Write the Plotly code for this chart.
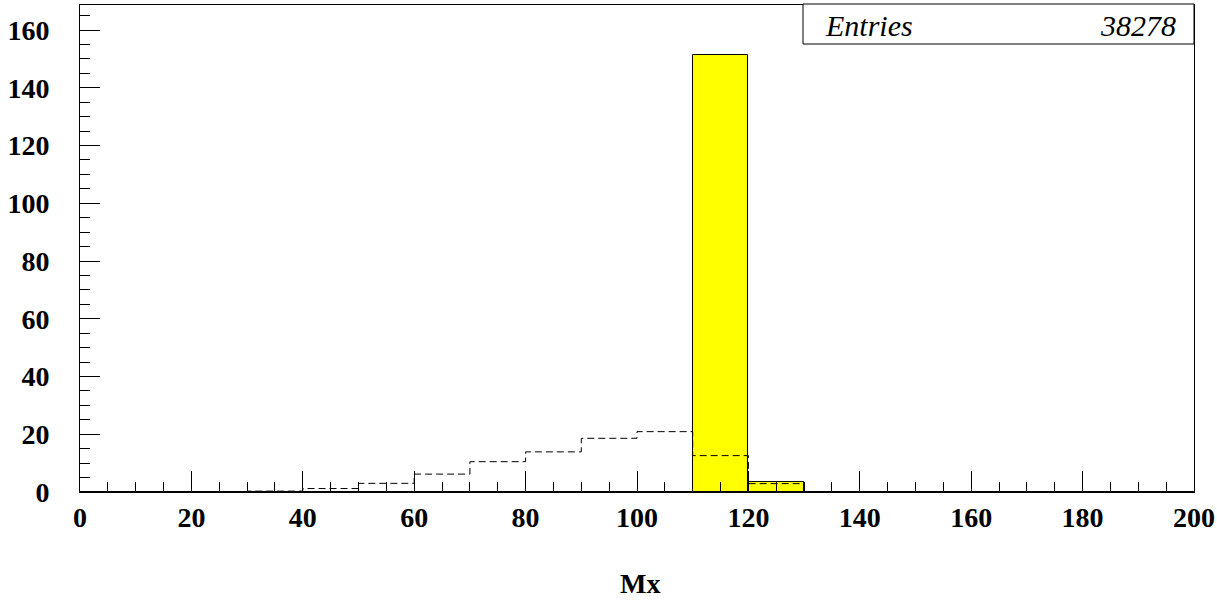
import plotly.graph_objects as go

bin_edges = list(range(0, 210, 10))
yellow_counts = [0, 0, 0, 0, 0, 0, 0, 0, 0, 0, 0, 151.5, 3.5, 0, 0, 0, 0, 0, 0, 0]
dashed_counts = [0, 0, 0.05, 0.3, 1.2, 3.0, 6.2, 10.5, 13.9, 18.6, 20.9, 12.6, 2.9, 0.15, 0.05, 0.05, 0.05, 0.05, 0.05, 0.05]
entries_label = "Entries"
entries_value = "38278"
x_title = "Mx"

centers = [(a + b) / 2 for a, b in zip(bin_edges[:-1], bin_edges[1:])]

SERIF = "Liberation Serif, Times New Roman, Times, serif"

fig = go.Figure()
fig.add_trace(go.Bar(
    x=centers, y=yellow_counts, width=10,
    marker=dict(color="#ffff00", line=dict(color="black", width=1)),
    showlegend=False, hoverinfo="skip",
))
fig.add_trace(go.Scatter(
    x=bin_edges, y=dashed_counts + [dashed_counts[-1]],
    mode="lines", line=dict(shape="hv", color="black", width=1, dash="7px,4px"),
    showlegend=False, hoverinfo="skip",
))

L, R, T, B = 80, 1194, 5, 492
W, H = 1217, 600

fig.update_layout(
    width=W, height=H,
    margin=dict(l=L, r=W - R, t=T, b=H - B, pad=0, autoexpand=False),
    paper_bgcolor="white", plot_bgcolor="white",
    bargap=0,
    xaxis=dict(
        range=[0, 200], tickmode="linear", tick0=0, dtick=20,
        ticks="inside", ticklen=21, tickwidth=1, tickcolor="black",
        minor=dict(dtick=5, ticks="inside", ticklen=10, tickwidth=1, tickcolor="black"),
        showline=True, linecolor="black", linewidth=1, mirror=True,
        showgrid=False, zeroline=False, automargin=False,
        tickfont=dict(family=SERIF, size=28, color="black", weight="bold"),
        ticklabelstandoff=0,
    ),
    yaxis=dict(
        range=[0, (B - T) / ((492 - 30) / 160)], tickmode="linear", tick0=0, dtick=20,
        ticks="inside", ticklen=20, tickwidth=1, tickcolor="black",
        minor=dict(dtick=5, ticks="inside", ticklen=10, tickwidth=1, tickcolor="black"),
        showline=True, linecolor="black", linewidth=1, mirror=True,
        showgrid=False, zeroline=False, automargin=False,
        tickfont=dict(family=SERIF, size=28, color="black", weight="bold"),
        ticklabelstandoff=24,
    ),
)

pw, ph = R - L, B - T
fig.add_annotation(xref="paper", yref="paper", x=(640 - L) / pw, y=(B - 583) / ph,
                   text="<b>" + x_title + "</b>", showarrow=False, xanchor="center", yanchor="middle",
                   font=dict(family=SERIF, size=28, color="black"))

bx0, bx1, by0, by1 = 803, 1194, 44, 4
fig.add_shape(type="rect", xref="paper", yref="paper",
              x0=(bx0 - L) / pw, x1=(bx1 - L) / pw,
              y0=(B - by0) / ph, y1=(B - by1) / ph,
              line=dict(color="black", width=1), fillcolor="white")
fig.add_annotation(xref="paper", yref="paper", x=(823 - L) / pw, y=(B - 25) / ph,
                   text="<i>" + entries_label + "</i>", showarrow=False, xanchor="left", yanchor="middle",
                   font=dict(family=SERIF, size=30, color="black"))
fig.add_annotation(xref="paper", yref="paper", x=(1178 - L) / pw, y=(B - 25) / ph,
                   text="<i>" + entries_value + "</i>", showarrow=False, xanchor="right", yanchor="middle",
                   font=dict(family=SERIF, size=30, color="black"))

fig.write_html("out.html")
